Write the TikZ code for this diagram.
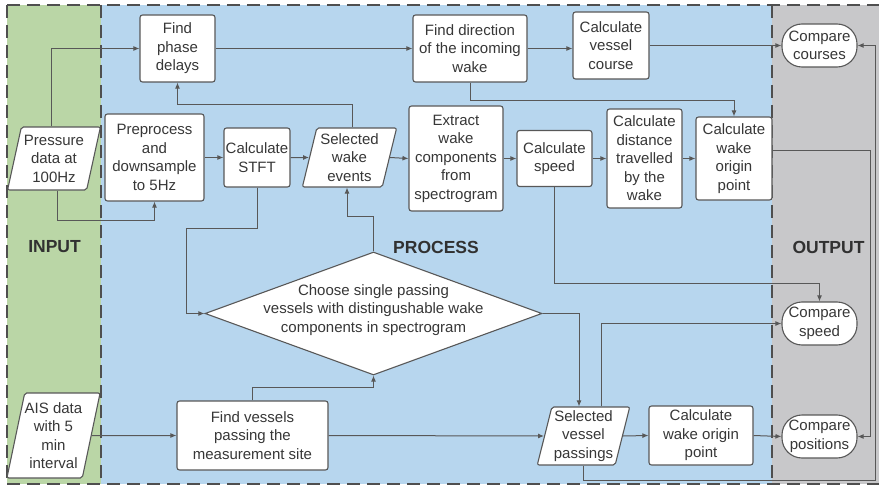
\documentclass[tikz,border=0pt]{standalone}
\usepackage{fontspec}
\setmainfont{Liberation Sans}
\usetikzlibrary{shapes.geometric,arrows.meta}
\definecolor{ingreen}{RGB}{186,214,166}
\definecolor{prblue}{RGB}{183,214,238}
\definecolor{outgray}{RGB}{200,200,202}
\definecolor{lc}{RGB}{88,88,88}
\definecolor{tc}{RGB}{55,55,55}
\begin{document}
\begin{tikzpicture}[x=1pt,y=-1pt,
  txt/.style={align=center,text=tc,font=\fontsize{15}{18.5}\selectfont,inner sep=0pt},
  box/.style={txt,draw=lc,fill=white,line width=1.1pt,rounded corners=2.5pt},
  para/.style={txt,trapezium,trapezium left angle=75,trapezium right angle=105,
    trapezium stretches=true,draw=lc,fill=white,line width=1.1pt,rounded corners=2pt},
  term/.style={txt,draw=lc,fill=white,line width=1.1pt,rounded corners=20pt,
    minimum width=75pt,minimum height=43pt},
  title/.style={text=tc!90!black,font=\fontsize{17.5}{20}\selectfont\bfseries},
  arr/.style={draw=lc,line width=1pt,-{Latex[length=6pt,width=5pt]}},
  frame/.style={draw=lc!90!black,line width=1.5pt,dash pattern=on 13pt off 7pt}]
\useasboundingbox (0,0) rectangle (879,487);
% panels
\fill[ingreen] (7,5) rectangle (101,484);
\fill[prblue] (101,5) rectangle (772,484);
\fill[outgray] (772,5) rectangle (879,484);
\draw[frame] (7,5) -- (883,5);
\draw[frame] (7,484) -- (883,484);
\draw[frame] (7,5) -- (7,484);
\draw[frame] (101,5) -- (101,484);
\draw[frame] (772,5) -- (772,484);
% titles
\node[title] (tin) at (54.5,247) {INPUT};
\node[title] (tpr) at (436,247) {PROCESS};
\node[title] (tout) at (828.5,247) {OUTPUT};
% nodes
\node[para,minimum width=93pt,minimum height=63pt] (press) at (54,158.5) {Pressure\\data at\\100Hz};
\node[box,minimum width=75pt,minimum height=67pt] (phase) at (177.5,48.5) {Find\\phase\\delays};
\node[box,minimum width=99pt,minimum height=87pt] (prep) at (154.5,157.5) {Preprocess\\and\\downsample\\to 5Hz};
\node[box,minimum width=66pt,minimum height=59pt] (stft) at (257,157.5) {Calculate\\STFT};
\node[para,minimum width=95pt,minimum height=59pt] (selw) at (349.5,157.5) {Selected\\wake\\events};
\node[box,minimum width=94pt,minimum height=105pt] (extr) at (456,158.5) {Extract\\wake\\components\\from\\spectrogram};
\node[box,minimum width=75pt,minimum height=56pt] (speed) at (554.5,158.5) {Calculate\\speed};
\node[box,minimum width=75pt,minimum height=99pt] (dist) at (644.5,158.5) {Calculate\\distance\\travelled\\by the\\wake};
\node[box,minimum width=76pt,minimum height=83pt] (orig1) at (734,158.5) {Calculate\\wake\\origin\\point};
\node[box,minimum width=114pt,minimum height=67pt] (dir) at (470,48.5) {Find direction\\of the incoming\\wake};
\node[box,minimum width=76pt,minimum height=67pt] (course) at (611,45.5) {Calculate\\vessel\\course};
\node[term] (cmpc) at (819.5,45.5) {Compare\\courses};
\node[diamond,draw=lc,fill=white,line width=1.1pt,inner sep=0pt,minimum width=337pt,minimum height=123pt] (dia) at (373.5,313.5) {};
\node[txt] (diat) at (373.5,310) {Choose single passing\\vessels with distingushable wake\\components in spectrogram};
\node[term] (cmps) at (819.5,323.5) {Compare\\speed};
\node[term] (cmpp) at (819.5,436.5) {Compare\\positions};
\node[para,minimum width=93pt,minimum height=85pt] (ais) at (53.5,435.5) {AIS data\\with 5\\min\\interval};
\node[box,minimum width=151pt,minimum height=69pt] (findv) at (252.5,435.5) {Find vessels\\passing the\\measurement site};
\node[para,minimum width=93pt,minimum height=58pt] (selv) at (583.5,436) {Selected\\vessel\\passings};
\node[box,minimum width=104pt,minimum height=59pt] (orig2) at (701,435.5) {Calculate\\wake origin\\point};
% connectors
\draw[arr] ([xshift=-3pt]press.north) |- (phase.west);
\draw[arr] ([xshift=3pt]press.south) -- ++(0,30) -| (prep.south);
\draw[arr] (prep.east) -- (stft.west);
\draw[arr] (stft.east) -- (selw.west);
\draw[arr] ([xshift=2.5pt]selw.north) -- ++(0,-23) -| (phase.south);
\draw[arr] (phase.east) -- (dir.west);
\draw[arr] (dir.east) -- (dir.east -| course.west);
\draw[arr] (course.east) -- (cmpc.west);
\draw[arr] (dir.south) -- ++(0,18) -| (orig1.north);
\draw[arr] (selw.east) -- (extr.west);
\draw[arr] (extr.east) -- (speed.west);
\draw[arr] (speed.east) -- (dist.west);
\draw[arr] (dist.east) -- (orig1.west);
\draw[arr] ([yshift=8.5pt]orig1.east) -- ++(98,0) |- (cmpp.east);
\draw[arr] (speed.south) -- ++(0,96) -| (cmps.north);
\draw[arr] ([xshift=18pt]selv.north) |- (cmps.west);
\draw[arr] (selv.east) -- (orig2.west);
\draw[arr] (orig2.east) -- (cmpp.west);
\draw[arr] (selv.south) -- ++(0,15) -- ++(291.5,0) |- (cmpc.east);
\draw[arr] (stft.south) -- ++(0,41) -- ++(-71,0) |- (dia.west);
\draw[arr] (dia.north) -- ++(0,-35) -| ([xshift=-2.5pt]selw.south);
\draw[arr] (dia.east) -| ([xshift=-4.5pt]selv.north);
\draw[arr] (findv.north) -- ++(0,-13) -| (dia.south);
\draw[arr] (ais.east) -- (findv.west);
\draw[arr] (findv.east) -- (selv.west);
\end{tikzpicture}
\end{document}
